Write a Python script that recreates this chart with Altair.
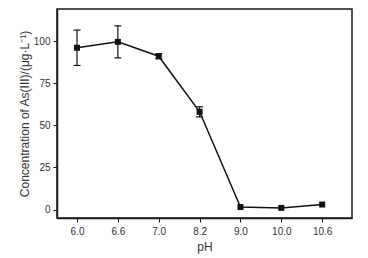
import altair as alt
import pandas as pd

ph_labels = ["6.0", "6.6", "7.0", "8.2", "9.0", "10.0", "10.6"]
conc = [96, 99.5, 91, 58, 1.5, 1.0, 3.0]
err = [10.5, 9.5, 1.5, 3.0, 0.0, 0.0, 0.0]

df = pd.DataFrame({
    "idx": list(range(len(ph_labels))),
    "ph": ph_labels,
    "conc": conc,
    "lo": [c - e for c, e in zip(conc, err)],
    "hi": [c + e for c, e in zip(conc, err)],
})
eb = df[[e > 0 for e in err]]

label_expr = "[" + ",".join(f"'{l}'" for l in ph_labels) + "][datum.value]"

x = alt.X("idx:Q",
          scale=alt.Scale(domain=[-0.49, 6.73], nice=False, zero=False),
          axis=alt.Axis(values=list(range(7)), labelExpr=label_expr, title="pH",
                        grid=False, tickSize=4, labelPadding=4, titlePadding=5))
y = alt.Y("conc:Q",
          scale=alt.Scale(domain=[-5, 119], nice=False),
          axis=alt.Axis(values=[0, 25, 50, 75, 100], grid=False, tickSize=4,
                        labelPadding=3, titlePadding=2,
                        title="Concentration of As(III)/(μg·L⁻¹)"))

ink = "#111111"
line = alt.Chart(df).mark_line(color=ink, strokeWidth=1.5).encode(x=x, y=y)
pts = alt.Chart(df).mark_square(color=ink, opacity=1, size=36).encode(x=x, y=y)
rule = alt.Chart(eb).mark_rule(color=ink, strokeWidth=1.2).encode(
    x=x, y=alt.Y("lo:Q"), y2="hi:Q")
cap_lo = alt.Chart(eb).mark_tick(color=ink, opacity=1, orient="horizontal", size=7, thickness=1.2).encode(
    x=x, y=alt.Y("lo:Q"))
cap_hi = alt.Chart(eb).mark_tick(color=ink, opacity=1, orient="horizontal", size=7, thickness=1.2).encode(
    x=x, y=alt.Y("hi:Q"))

chart = alt.layer(rule, cap_lo, cap_hi, line, pts).properties(
    width=295, height=209,
    autosize=alt.AutoSizeParams(type="none"),
    padding={"left": 49, "top": 1, "right": 8, "bottom": 40},
).configure_view(
    stroke="#1a1a1a", strokeWidth=1.5
).configure_axis(
    domainColor="#1a1a1a", domainWidth=1.5, tickColor="#1a1a1a", tickWidth=1,
    labelFont="Liberation Sans", titleFont="Liberation Sans",
    labelFontSize=10, titleFontSize=12, labelColor="#333", titleColor="#333",
    titleFontWeight="normal",
)

chart.save("out.html", embed_options={"renderer": "svg", "actions": False})
